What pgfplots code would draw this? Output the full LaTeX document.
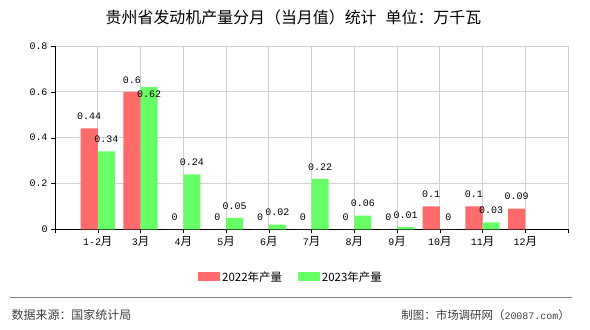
\documentclass[border=0pt]{standalone}
\usepackage{fontspec}
\usepackage{pgfplots}
\usepackage{pgfplotstable}
\pgfplotsset{compat=1.18}
\setmainfont{Noto Sans CJK SC}
\newfontfamily\mono{Liberation Mono}
\definecolor{cr}{HTML}{FF6A6A}
\definecolor{cg}{HTML}{66FF66}
\definecolor{gridc}{HTML}{D2D2D2}
\definecolor{foot}{HTML}{404040}
\newcommand\m[1]{{\mono\fontsize{10}{12}\selectfont #1}}

\pgfplotstableread{
x y
0 0.44
1 0.6
2 0
3 0
4 0
5 0
6 0
7 0
8 0.1
9 0.1
10 0.09
}\reddata

\pgfplotstableread{
x y dy
0 0.34 8.5
1 0.62 -11
2 0.24 8.5
3 0.05 8.5
4 0.02 8.5
5 0.22 8.5
6 0.06 8.5
7 0.01 8.5
8 0 8.5
9 0.03 8.5
}\greendata

\begin{document}
\begin{tikzpicture}
\path[use as bounding box, fill=white] (0,0) rectangle (590bp,330bp);
\node[font=\fontsize{16}{18}\selectfont] at (293.5bp,313bp) {贵州省发动机产量分月（当月值）统计\hspace{9bp}单位：万千瓦};
\begin{axis}[
  at={(55bp,100.7bp)}, anchor=south west,
  scale only axis, width=513bp, height=183.3bp,
  xmin=-1, xmax=11, ymin=0, ymax=0.8,
  xtick={-1,0,...,11},
  xticklabels={,\m{1-2}月,\m{3}月,\m{4}月,\m{5}月,\m{6}月,\m{7}月,\m{8}月,\m{9}月,\m{10}月,\m{11}月,\m{12}月,},
  ytick={0,0.2,0.4,0.6,0.8},
  axis x line*=bottom, axis y line*=left, axis line style={black,-},
  grid=major, grid style={gridc, line width=0.8bp},
  tick style={black}, major tick length=4bp, tick align=outside,
  xticklabel style={font=\fontsize{11.5}{13}\selectfont},
  yticklabel style={font=\mono\fontsize{10}{12}\selectfont},
  /pgf/number format/assume math mode=true,
  /pgf/number format/fixed,
  ybar, bar width=0.4,
  legend style={at={(0.46,-0.26)}, anchor=center, draw=none, fill=none,
    font=\fontsize{11.5}{13}\selectfont, legend columns=2,
    /tikz/every even column/.append style={column sep=14bp}},
]
\addplot[fill=cr, draw=none, bar shift=-0.2,
  legend image code/.code={\fill[fill=cr] (0bp,-4.5bp) rectangle (22bp,4.5bp);},
  nodes near coords,
  every node near coord/.append style={font=\mono\fontsize{10}{12}\selectfont, anchor=south, inner sep=0pt, yshift=8.5bp, black}]
  table[x=x,y=y] {\reddata};
\addlegendentry{2022年产量}
\addplot[fill=cg, draw=none, bar shift=0.2,
  legend image code/.code={\fill[fill=cg] (0bp,-4.5bp) rectangle (22bp,4.5bp);},
  visualization depends on={\thisrow{dy}\as\dy},
  nodes near coords,
  every node near coord/.append style={font=\mono\fontsize{10}{12}\selectfont, anchor=south, inner sep=0pt, yshift=\dy*1bp, black}]
  table[x=x,y=y] {\greendata};
\addlegendentry{2023年产量}
\end{axis}
\draw[gray, line width=1bp] (10bp,32bp) -- (572bp,32bp);
\node[anchor=west, font=\fontsize{12}{14}\selectfont, text=foot, inner sep=0pt] at (11.5bp,15bp) {数据来源：国家统计局};
\node[anchor=east, font=\fontsize{11.5}{14}\selectfont, text=foot, inner sep=0pt] at (570bp,15bp) {制图：市场调研网（\m{20087.com}）};
\end{tikzpicture}
\end{document}
